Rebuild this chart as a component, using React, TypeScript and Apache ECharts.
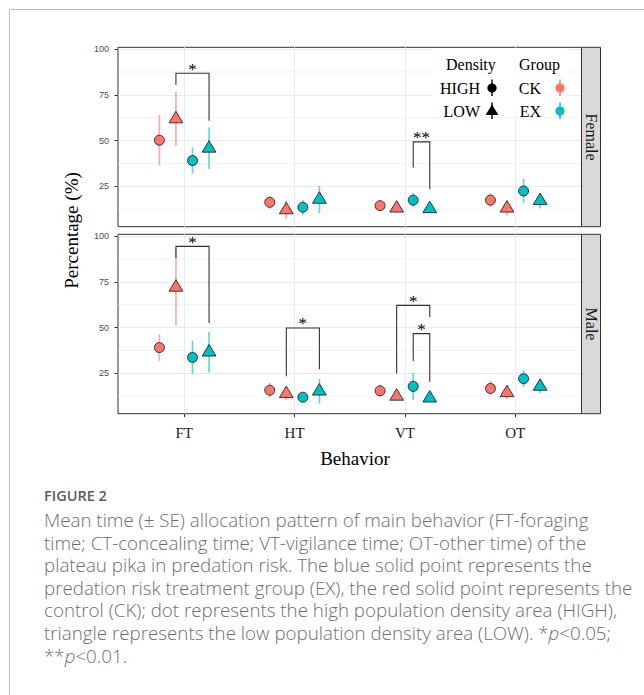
import React, { useEffect, useRef } from 'react';
import * as echarts from 'echarts';

const categories = ['FT', 'HT', 'VT', 'OT'];
const yTicks = [25, 50, 75, 100];
const yMinorLines = [12.5, 37.5, 62.5, 87.5];
const densityLabels = ['HIGH', 'LOW'];
const groupLabels = ['CK', 'EX'];
const panelLabels = ['Female', 'Male'];

// Female panel: mean and SE (order of categories: FT, HT, VT, OT)
const femaleCkHighMean = [50.2, 16.3, 14.5, 17.5];
const femaleCkHighSE = [13.8, 3.6, 2.0, 3.9];
const femaleCkLowMean = [61.8, 12.2, 13.1, 13.1];
const femaleCkLowSE = [14.8, 4.9, 1.5, 4.0];
const femaleExHighMean = [39.1, 13.6, 17.5, 22.5];
const femaleExHighSE = [7.1, 4.1, 3.9, 6.6];
const femaleExLowMean = [45.8, 17.9, 12.8, 17.2];
const femaleExLowSE = [11.3, 7.4, 1.5, 4.1];

// Male panel
const maleCkHighMean = [39.1, 15.8, 15.5, 16.8];
const maleCkHighSE = [7.3, 4.1, 3.1, 4.0];
const maleCkLowMean = [72.0, 13.9, 12.5, 14.4];
const maleCkLowSE = [21.0, 3.4, 2.0, 3.4];
const maleExHighMean = [33.7, 12.0, 17.9, 22.1];
const maleExHighSE = [9.1, 2.0, 7.4, 4.4];
const maleExLowMean = [36.6, 15.3, 11.5, 17.9];
const maleExLowSE = [11.1, 6.6, 2.0, 3.8];

// significance brackets: [category index, from group, to group, top, left tip, right tip]
const femaleBrackets = [
  [0, 1, 3, 86.7, 80.5, 60.8],
  [2, 2, 3, 49.3, 35.3, 23.4],
];
const femaleBracketLabels = ['*', '**'];
const maleBrackets = [
  [0, 1, 3, 94.3, 88.0, 52.5],
  [1, 1, 3, 49.8, 23.5, 27.2],
  [2, 1, 3, 62.1, 25.0, 55.8],
  [2, 2, 3, 46.7, 31.8, 20.4],
];
const maleBracketLabels = ['*', '*', '*', '*'];

const captionLines = [
  'Mean time (± SE) allocation pattern of main behavior (FT-foraging',
  'time; CT-concealing time; VT-vigilance time; OT-other time) of the',
  'plateau pika in predation risk. The blue solid point represents the',
  'predation risk treatment group (EX), the red solid point represents the',
  'control (CK); dot represents the high population density area (HIGH),',
  'triangle represents the low population density area (LOW). *{i|p}<0.05;',
  '**{i|p}<0.01.',
];

const RED = '#F8766D';
const TEAL = '#00BFC4';
const RED_LINE = 'rgba(248,118,109,0.62)';
const TEAL_LINE = 'rgba(0,191,196,0.62)';
const dodge = [-0.225, -0.075, 0.075, 0.225];
const SERIF = '"Liberation Serif", "Times New Roman", serif';
const SANS = '"Liberation Sans", Arial, sans-serif';
const CAP = '"Open Sans", "Noto Sans", sans-serif';

const GRID_LEFT = 118;
const GRID_W = 463.5;
const GRID_TOPS = [47.3, 234.3];
const GRID_H = 179.4;

function pointSeries(g: number, gi: number, means: number[], ses: number[], color: string, lineColor: string, tri: boolean) {
  return {
    type: 'custom',
    xAxisIndex: g,
    yAxisIndex: g,
    z: 3,
    data: means.map((m, i) => [i + 1 + dodge[gi], m, ses[i]]),
    renderItem: (_p: any, api: any) => {
      const x = api.value(0);
      const m = api.value(1);
      const s = api.value(2);
      const p = api.coord([x, m]);
      const lo = api.coord([x, m - s]);
      const hi = api.coord([x, m + s]);
      const children: any[] = [
        { type: 'line', shape: { x1: p[0], y1: lo[1], x2: p[0], y2: hi[1] }, style: { stroke: lineColor, lineWidth: 1.7 } },
      ];
      if (tri) {
        children.push({
          type: 'polygon',
          shape: { points: [[p[0], p[1] - 7.6], [p[0] - 6.9, p[1] + 3.9], [p[0] + 6.9, p[1] + 3.9]] },
          style: { fill: color, stroke: '#111', lineWidth: 0.8 },
        });
      } else {
        children.push({ type: 'circle', shape: { cx: p[0], cy: p[1], r: 5 }, style: { fill: color, stroke: '#111', lineWidth: 0.8 } });
      }
      return { type: 'group', children };
    },
  };
}

function minorGridSeries(g: number) {
  return {
    type: 'custom',
    xAxisIndex: g,
    yAxisIndex: g,
    z: 1,
    silent: true,
    data: yMinorLines.map((v) => [0.4, v]),
    renderItem: (_p: any, api: any) => {
      const a = api.coord([0.4, api.value(1)]);
      const b = api.coord([4.6, api.value(1)]);
      return { type: 'line', shape: { x1: a[0], y1: a[1], x2: b[0], y2: b[1] }, style: { stroke: '#EEEEEE', lineWidth: 0.7 } };
    },
  };
}

function bracketSeries(g: number, brackets: number[][], labels: string[]) {
  return {
    type: 'custom',
    xAxisIndex: g,
    yAxisIndex: g,
    z: 4,
    data: brackets.map((b) => [b[0] + 1 + dodge[b[1]], b[0] + 1 + dodge[b[2]], b[3], b[4], b[5]]),
    renderItem: (params: any, api: any) => {
      const x1 = api.value(0);
      const x2 = api.value(1);
      const top = api.value(2);
      const a = api.coord([x1, api.value(3)]);
      const b = api.coord([x1, top]);
      const c = api.coord([x2, top]);
      const d = api.coord([x2, api.value(4)]);
      return {
        type: 'group',
        children: [
          { type: 'polyline', shape: { points: [a, b, c, d] }, style: { stroke: '#333', lineWidth: 1.1, fill: 'none' } },
          {
            type: 'text',
            x: (b[0] + c[0]) / 2,
            y: b[1] - 4,
            style: { text: labels[params.dataIndex], fontSize: 17, fontFamily: SERIF, fill: '#000', align: 'center', verticalAlign: 'middle' },
          },
        ],
      };
    },
  };
}

export default function App() {
  const ref = useRef<HTMLDivElement>(null);
  useEffect(() => {
    if (!ref.current) return;
    const chart = echarts.init(ref.current, undefined, { renderer: 'svg' });
    const grids = GRID_TOPS.map((t) => ({
      left: GRID_LEFT,
      top: t,
      width: GRID_W,
      height: GRID_H,
      show: true,
      borderColor: '#333',
      borderWidth: 1,
      backgroundColor: 'transparent',
    }));
    const xAxes = [0, 1].map((g) => ({
      gridIndex: g,
      type: 'value',
      min: 0.4,
      max: 4.6,
      axisLine: { show: false },
      axisTick: { show: g === 1, length: 3.5, customValues: [1, 2, 3, 4], lineStyle: { color: '#333' } },
      axisLabel: {
        show: g === 1,
        customValues: [1, 2, 3, 4],
        formatter: (v: number) => categories[Math.round(v) - 1] || '',
        fontFamily: SERIF,
        fontSize: 15,
        color: '#1a1a1a',
        margin: 12,
      },
      splitLine: { show: true, lineStyle: { color: '#EBEBEB', width: 1 } },
    }));
    const yAxes = [0, 1].map((g) => ({
      gridIndex: g,
      type: 'value',
      min: 3.0,
      max: 100.9,
      axisLine: { show: false },
      axisTick: { show: true, length: 3.5, customValues: yTicks, lineStyle: { color: '#333' } },
      axisLabel: { customValues: yTicks, fontFamily: SANS, fontSize: 9, color: '#4D4D4D', margin: 9 },
      splitLine: { show: true, lineStyle: { color: '#EBEBEB', width: 1 } },
    }));

    const panels = [
      {
        means: [femaleCkHighMean, femaleCkLowMean, femaleExHighMean, femaleExLowMean],
        ses: [femaleCkHighSE, femaleCkLowSE, femaleExHighSE, femaleExLowSE],
        brackets: femaleBrackets,
        labels: femaleBracketLabels,
      },
      {
        means: [maleCkHighMean, maleCkLowMean, maleExHighMean, maleExLowMean],
        ses: [maleCkHighSE, maleCkLowSE, maleExHighSE, maleExLowSE],
        brackets: maleBrackets,
        labels: maleBracketLabels,
      },
    ];
    const colors = [RED, RED, TEAL, TEAL];
    const lineColors = [RED_LINE, RED_LINE, TEAL_LINE, TEAL_LINE];
    const series: any[] = [];
    panels.forEach((p, g) => {
      series.push(minorGridSeries(g));
      for (let i = 0; i < 4; i++) {
        series.push(pointSeries(g, i, p.means[i], p.ses[i], colors[i], lineColors[i], i % 2 === 1));
      }
      series.push(bracketSeries(g, p.brackets, p.labels));
    });

    const graphic: any[] = [];
    // outer frame
    graphic.push({ type: 'rect', shape: { x: 9.5, y: 9.5, width: 700, height: 720 }, style: { fill: 'none', stroke: '#BDBDBD', lineWidth: 1 }, z: 0 });
    // strips
    GRID_TOPS.forEach((t, i) => {
      graphic.push({
        type: 'rect',
        shape: { x: GRID_LEFT + GRID_W, y: t, width: 19, height: GRID_H },
        style: { fill: '#D9D9D9', stroke: '#333', lineWidth: 1 },
        z: 5,
      });
      graphic.push({
        type: 'text',
        x: GRID_LEFT + GRID_W + 9.5,
        y: t + GRID_H / 2,
        rotation: -Math.PI / 2,
        style: { text: panelLabels[i], fontFamily: SERIF, fontSize: 16, fill: '#1A1A1A', align: 'center', verticalAlign: 'middle' },
        z: 6,
      });
    });
    // axis titles
    graphic.push({
      type: 'text',
      x: 71,
      y: 230.5,
      rotation: Math.PI / 2,
      style: { text: 'Percentage (%)', fontFamily: SERIF, fontSize: 19, fill: '#000', align: 'center', verticalAlign: 'middle' },
    });
    graphic.push({
      type: 'text',
      x: 355,
      y: 458,
      style: { text: 'Behavior', fontFamily: SERIF, fontSize: 19, fill: '#000', align: 'center', verticalAlign: 'middle' },
    });
    // legend
    graphic.push({ type: 'rect', shape: { x: 433, y: 48, width: 134, height: 68 }, style: { fill: '#fff' }, z: 10 });
    const lt = { fontFamily: SERIF, fontSize: 16, fill: '#000', verticalAlign: 'middle' };
    graphic.push({ type: 'text', x: 446, y: 64, style: { ...lt, text: 'Density', align: 'left' }, z: 11 });
    graphic.push({ type: 'text', x: 519, y: 64, style: { ...lt, text: 'Group', align: 'left' }, z: 11 });
    const rowY = [88, 111];
    rowY.forEach((y, i) => {
      graphic.push({ type: 'text', x: 480, y, style: { ...lt, text: densityLabels[i], align: 'right' }, z: 11 });
      graphic.push({ type: 'text', x: 541, y, style: { ...lt, text: groupLabels[i], align: 'right' }, z: 11 });
      graphic.push({ type: 'line', shape: { x1: 492, y1: y - 8.5, x2: 492, y2: y + 8 }, style: { stroke: '#000', lineWidth: 1.4 }, z: 11 });
      graphic.push({ type: 'line', shape: { x1: 560, y1: y - 8.5, x2: 560, y2: y + 8 }, style: { stroke: i === 0 ? RED : TEAL, lineWidth: 1.4 }, z: 11 });
      graphic.push({ type: 'circle', shape: { cx: 560, cy: y, r: 4.6 }, style: { fill: i === 0 ? RED : TEAL }, z: 12 });
    });
    graphic.push({ type: 'circle', shape: { cx: 492, cy: 88, r: 4.6 }, style: { fill: '#000' }, z: 12 });
    graphic.push({
      type: 'polygon',
      shape: { points: [[492, 111 - 6.5], [492 - 6.4, 111 + 4], [492 + 6.4, 111 + 4]] },
      style: { fill: '#000' },
      z: 12,
    });
    // caption
    graphic.push({
      type: 'text',
      x: 44,
      y: 495,
      style: { text: 'FIGURE 2', fontFamily: CAP, fontWeight: 600, fontSize: 14.5, fill: '#5a5a5a', align: 'left', verticalAlign: 'middle' },
    });
    captionLines.forEach((line, i) => {
      graphic.push({
        type: 'text',
        x: 44,
        y: 519.5 + i * 22.6,
        style: {
          text: line,
          fontFamily: CAP,
          fontWeight: 300,
          fontSize: 18.75,
          fill: '#6e6e6e',
          align: 'left',
          verticalAlign: 'middle',
          rich: { i: { fontStyle: 'italic', fontFamily: CAP, fontWeight: 300, fontSize: 18.75, fill: '#6e6e6e' } },
        },
      });
    });

    chart.setOption({
      animation: false,
      backgroundColor: '#fff',
      grid: grids,
      xAxis: xAxes,
      yAxis: yAxes,
      series,
      graphic,
    });
    return () => chart.dispose();
  }, []);
  return <div ref={ref} style={{ position: 'fixed', left: 0, top: 0, width: 644, height: 695, background: '#fff' }} />;
}
